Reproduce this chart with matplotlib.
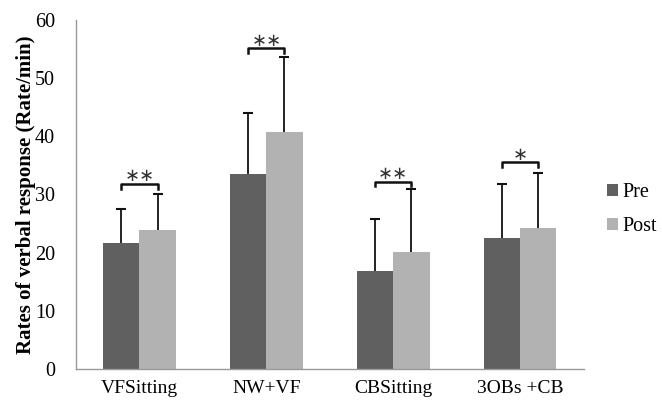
import numpy as np
import matplotlib.pyplot as plt

categories = ["VFSitting", "NW+VF", "CBSitting", "3OBs +CB"]
pre_means = [21.6, 33.5, 16.8, 22.5]
pre_sd = [5.9, 10.5, 9.0, 9.3]
post_means = [23.9, 40.8, 20.1, 24.2]
post_sd = [6.1, 12.8, 10.8, 9.5]
sig_labels = ["∗∗", "∗∗", "∗∗", "∗"]
bracket_y = [31.8, 55.1, 32.2, 35.5]

plt.rcParams['font.family'] = ['Liberation Serif', 'DejaVu Serif']

fig = plt.figure(figsize=(6.62, 4.03), dpi=100)
ax = fig.add_axes([0.1148, 0.0844, 0.767, 0.866])

x = np.arange(len(categories))
w = 0.285

ax.bar(x - w / 2, pre_means, w, color='#606060', label='Pre', zorder=2)
ax.bar(x + w / 2, post_means, w, color='#b2b2b2', label='Post', zorder=2)

# upper-only error bars with a cap on top
for xs, m, sd in [(x - w / 2, pre_means, pre_sd), (x + w / 2, post_means, post_sd)]:
    top = np.array(m) + np.array(sd)
    ax.vlines(xs, m, top, color='#111111', lw=1.3, zorder=3)
    ax.plot(xs, top, ls='none', marker='_', ms=7, mew=1.5, color='#111111', zorder=3)

# significance brackets
for i in range(len(categories)):
    x0 = x[i] - w / 2
    x1 = x[i] + w / 2
    yb = bracket_y[i]
    ax.plot([x0, x0, x1, x1], [yb - 0.8, yb, yb, yb - 0.8], color='#111111', lw=1.8, zorder=3)
    ax.annotate(sig_labels[i], (x[i], yb), xytext=(0, 5.5), textcoords='offset points',
                ha='center', va='center', fontsize=13, color='#333333',
                family='DejaVu Sans')

ax.set_xlim(-0.5, 3.5)
ax.set_ylim(0, 60)
ax.set_yticks(range(0, 61, 10))
ax.set_xticks(x)
ax.set_xticklabels(categories)
ax.tick_params(axis='both', length=0, labelsize=14.5)
ax.tick_params(axis='y', pad=15)
ax.tick_params(axis='x', pad=8, labelsize=14)

for s in ['top', 'right']:
    ax.spines[s].set_visible(False)
for s in ['left', 'bottom']:
    ax.spines[s].set_color('#999999')
    ax.spines[s].set_linewidth(1.0)

ax.set_ylabel('Rates of verbal response (Rate/min)', fontsize=15, fontweight='bold', labelpad=-1)

ax.legend(loc='center left', bbox_to_anchor=(1.045, 0.457), frameon=False, fontsize=14.5,
          handlelength=0.55, handleheight=0.55, handletextpad=0.25, labelspacing=0.75,
          borderpad=0, borderaxespad=0)

fig.savefig('out.png', dpi=100)
